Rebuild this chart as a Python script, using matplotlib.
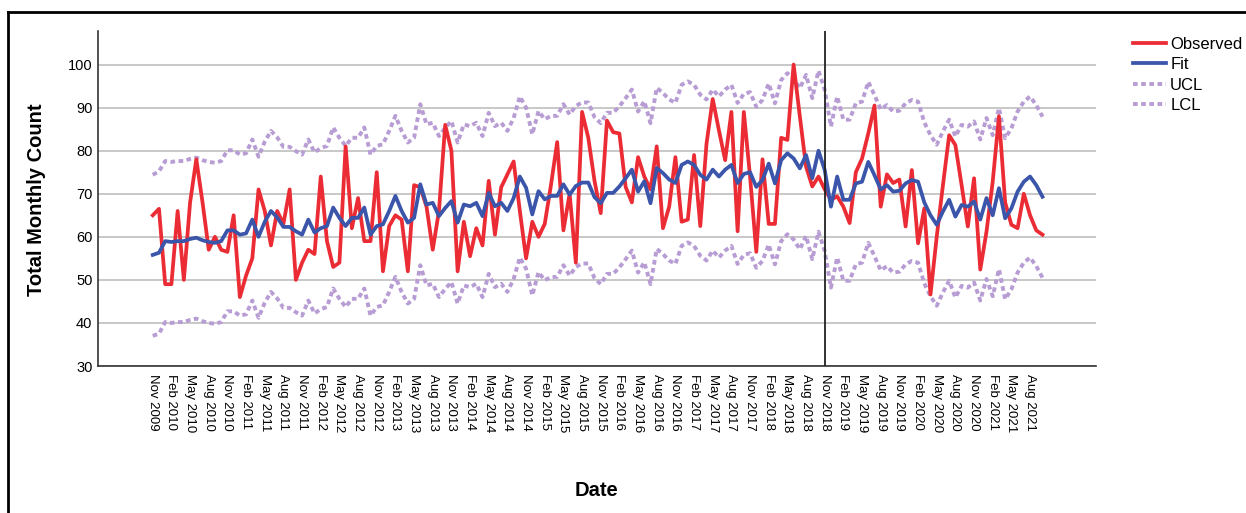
import numpy as np
import pandas as pd
import matplotlib
matplotlib.use("Agg")
import matplotlib.pyplot as plt
from matplotlib.lines import Line2D

plt.rcParams['font.family'] = ['Liberation Sans', 'DejaVu Sans']

# monthly series, Nov 2009 .. Oct 2021
dates = pd.date_range('2009-11-01', periods=144, freq='MS')

observed = [65, 66.5, 49, 49, 66, 50, 68, 78, 68, 57, 60, 57,
            56.5, 65, 46, 51, 55, 71, 66, 58, 66, 63, 71, 50,
            54, 57, 56, 74, 59, 53, 54, 81, 62, 69, 59, 59,
            75, 52, 62.5, 65, 64, 52, 72, 71.5, 67, 57, 66, 86,
            80, 52, 63.5, 55.5, 62, 58, 73, 60.5, 71.5, 74.5, 77.5, 66,
            55, 63.5, 60, 63, 72, 82, 61.5, 70, 54, 89, 83, 73,
            65.5, 87, 84.3, 84, 71.6, 68, 78.5, 74, 71, 81, 62, 67,
            78.5, 63.5, 64, 79, 62.5, 81.6, 92, 84.7, 77.8, 89, 61.3, 89,
            74, 56.5, 78, 63, 63, 83, 82.5, 100, 88, 76.3, 71.7, 74,
            71, 68.6, 69.4, 67, 63.2, 75, 78.2, 84, 90.5, 67, 74.5, 72.5,
            73.3, 62.4, 75.5, 58.5, 66.6, 46.6, 60, 72, 83.6, 81.3, 72, 62.4,
            73.6, 52.4, 61.2, 72.8, 88, 68, 62.8, 62, 70, 65, 61.5, 60.5]

fit = [55.8, 56.3, 59, 58.8, 59, 59, 59.5, 59.8, 59.2, 58.8, 58.6, 59,
       61.5, 61.5, 60.5, 60.8, 64, 60, 63.5, 66, 64.5, 62.3, 62.3, 61.3,
       60.5, 64, 61, 62, 62.5, 66.8, 64.4, 62.5, 64.4, 64.4, 66.8, 60.5,
       62.5, 62.9, 66, 69.5, 66, 63.3, 64.4, 72.2, 67.5, 67.9, 64.8, 66.7,
       68.3, 63.3, 67.5, 67.1, 67.9, 64.8, 70.2, 67.1, 67.9, 66, 69, 74,
       71.4, 65.2, 70.6, 68.7, 69.5, 69.5, 72.2, 69.8, 71.8, 72.6, 72.6, 69.2,
       67.8, 70.2, 70.2, 71.7, 73.6, 75.6, 70.5, 72.9, 67.8, 76, 74.8, 73.3,
       72.5, 76.7, 77.5, 76.7, 74.4, 73.3, 75.6, 74, 75.6, 76.7, 72.5, 74.6,
       75, 71.6, 73.2, 77, 72.4, 77.8, 79.4, 78.2, 75.9, 79, 73.6, 80,
       75.5, 67, 74, 68.6, 68.6, 72.4, 72.8, 77.4, 74.3, 71, 72, 70.5,
       70.7, 72.4, 73.2, 72.8, 68, 65, 62.8, 65.9, 68.6, 64.7, 67.4, 67,
       68.2, 64, 69, 65, 71.3, 64.3, 66.6, 70.5, 72.8, 74, 72, 69.3]

ucl = [74.4, 75.2, 77.6, 77.4, 77.6, 77.6, 78.1, 78.4, 77.8, 77.4, 77.2, 77.6,
       80.1, 80.1, 79.1, 79.4, 82.6, 78.6, 82.1, 84.6, 83.1, 80.9, 80.9, 79.9,
       79.1, 82.6, 79.6, 80.6, 81.1, 85.4, 83.0, 81.1, 83.0, 83.0, 85.4, 79.1,
       81.1, 81.5, 84.6, 88.1, 84.6, 81.9, 83.0, 90.8, 86.1, 86.5, 83.4, 85.3,
       86.9, 81.9, 86.1, 85.7, 86.5, 83.4, 88.8, 85.7, 86.5, 84.6, 87.6, 92.6,
       90.0, 83.8, 89.2, 87.3, 88.1, 88.1, 90.8, 88.4, 90.4, 91.2, 91.2, 87.8,
       86.4, 88.8, 88.8, 90.3, 92.2, 94.2, 89.1, 91.5, 86.4, 94.6, 93.4, 91.9,
       91.1, 95.3, 96.1, 95.3, 93.0, 91.9, 94.2, 92.6, 94.2, 95.3, 91.1, 93.2,
       93.6, 90.2, 91.8, 95.6, 91.0, 96.4, 98.0, 96.8, 94.5, 97.6, 92.2, 98.6,
       94.1, 85.6, 92.6, 87.2, 87.2, 91.0, 91.4, 96.0, 92.9, 89.6, 90.6, 89.1,
       89.3, 91.0, 91.8, 91.4, 86.6, 83.6, 81.4, 84.5, 87.2, 83.3, 86.0, 85.6,
       86.8, 82.6, 87.6, 83.6, 89.9, 82.9, 85.2, 89.1, 91.4, 92.6, 90.6, 87.9]

lcl = [37.0, 37.5, 40.2, 40.0, 40.2, 40.2, 40.7, 41.0, 40.4, 40.0, 39.8, 40.2,
       42.7, 42.7, 41.7, 42.0, 45.2, 41.2, 44.7, 47.2, 45.7, 43.5, 43.5, 42.5,
       41.7, 45.2, 42.2, 43.2, 43.7, 48.0, 45.6, 43.7, 45.6, 45.6, 48.0, 41.7,
       43.7, 44.1, 47.2, 50.7, 47.2, 44.5, 45.6, 53.4, 48.7, 49.1, 46.0, 47.9,
       49.5, 44.5, 48.7, 48.3, 49.1, 46.0, 51.4, 48.3, 49.1, 47.2, 50.2, 55.2,
       52.6, 46.4, 51.8, 49.9, 50.7, 50.7, 53.4, 51.0, 53.0, 53.8, 53.8, 50.4,
       49.0, 51.4, 51.4, 52.9, 54.8, 56.8, 51.7, 54.1, 49.0, 57.2, 56.0, 54.5,
       53.7, 57.9, 58.7, 57.9, 55.6, 54.5, 56.8, 55.2, 56.8, 57.9, 53.7, 55.8,
       56.2, 52.8, 54.4, 58.2, 53.6, 59.0, 60.6, 59.4, 57.1, 60.2, 54.8, 61.2,
       56.7, 48.2, 55.2, 49.8, 49.8, 53.6, 54.0, 58.6, 55.5, 52.2, 53.2, 51.7,
       51.9, 53.6, 54.4, 54.0, 49.2, 46.2, 44.0, 47.1, 49.8, 45.9, 48.6, 48.2,
       49.4, 45.2, 50.2, 46.2, 52.5, 45.5, 47.8, 51.7, 54.0, 55.2, 53.2, 50.5]

forecast_start = '2018-11-01'

x = np.arange(len(dates))

fig = plt.figure(figsize=(12.46, 5.13), dpi=100)
ax = fig.add_axes([98 / 1246, 1 - 366 / 513, (1096 - 98) / 1246, (366 - 31) / 513])

dot = (0, (1.2, 0.9))
ax.plot(x, ucl, color='#b89dd4', lw=2.8, linestyle=dot, label='UCL', zorder=2)
ax.plot(x, lcl, color='#b89dd4', lw=2.8, linestyle=dot, label='LCL', zorder=2)
ax.plot(x, observed, color='#eb2c34', lw=2.7, label='Observed', zorder=3)
ax.plot(x, fit, color='#3a55aa', lw=2.7, label='Fit', zorder=4)

ax.axvline(dates.get_loc(pd.Timestamp(forecast_start)), color='#222222', lw=1.3, zorder=5)

ax.set_xlim(-8.8, 151.6)
ax.set_ylim(30, 107.8)
ax.set_yticks(range(30, 101, 10))
ax.yaxis.grid(True, color='#c8c8c8', lw=1.4)
ax.set_axisbelow(True)

ticks = x[::3]
ax.set_xticks(ticks)
ax.set_xticklabels(dates[::3].strftime('%b %Y'), rotation=270, fontsize=9.5)
ax.tick_params(axis='y', labelsize=10.5, length=0, pad=4)
ax.tick_params(axis='x', length=0, pad=6)

for s in ['top', 'right']:
    ax.spines[s].set_visible(False)
for s in ['left', 'bottom']:
    ax.spines[s].set_color('#333333')
    ax.spines[s].set_linewidth(1.2)

fig.text(37 / 1246, 1 - 200 / 513, 'Total Monthly Count', rotation=90, fontsize=14.5,
         fontweight='bold', ha='center', va='center')
fig.text(597 / 1246, 1 - 490 / 513, 'Date', fontsize=14.5, fontweight='bold',
         ha='center', va='center')

h, l = ax.get_legend_handles_labels()
order = [2, 3, 0, 1]
fig.legend([h[i] for i in order], [l[i] for i in order], loc='upper left',
           bbox_to_anchor=(1126 / 1246, 1 - 30 / 513), frameon=False, fontsize=12,
           handlelength=2.0, handletextpad=0.25, labelspacing=0.33, borderaxespad=0)

# outer frame (top and left edges visible)
fig.add_artist(Line2D([8 / 1246, 1], [1 - 12 / 513, 1 - 12 / 513], color='black', lw=2))
fig.add_artist(Line2D([8 / 1246, 8 / 1246], [0, 1 - 12 / 513], color='black', lw=2))

fig.savefig('out.png', dpi=100)
